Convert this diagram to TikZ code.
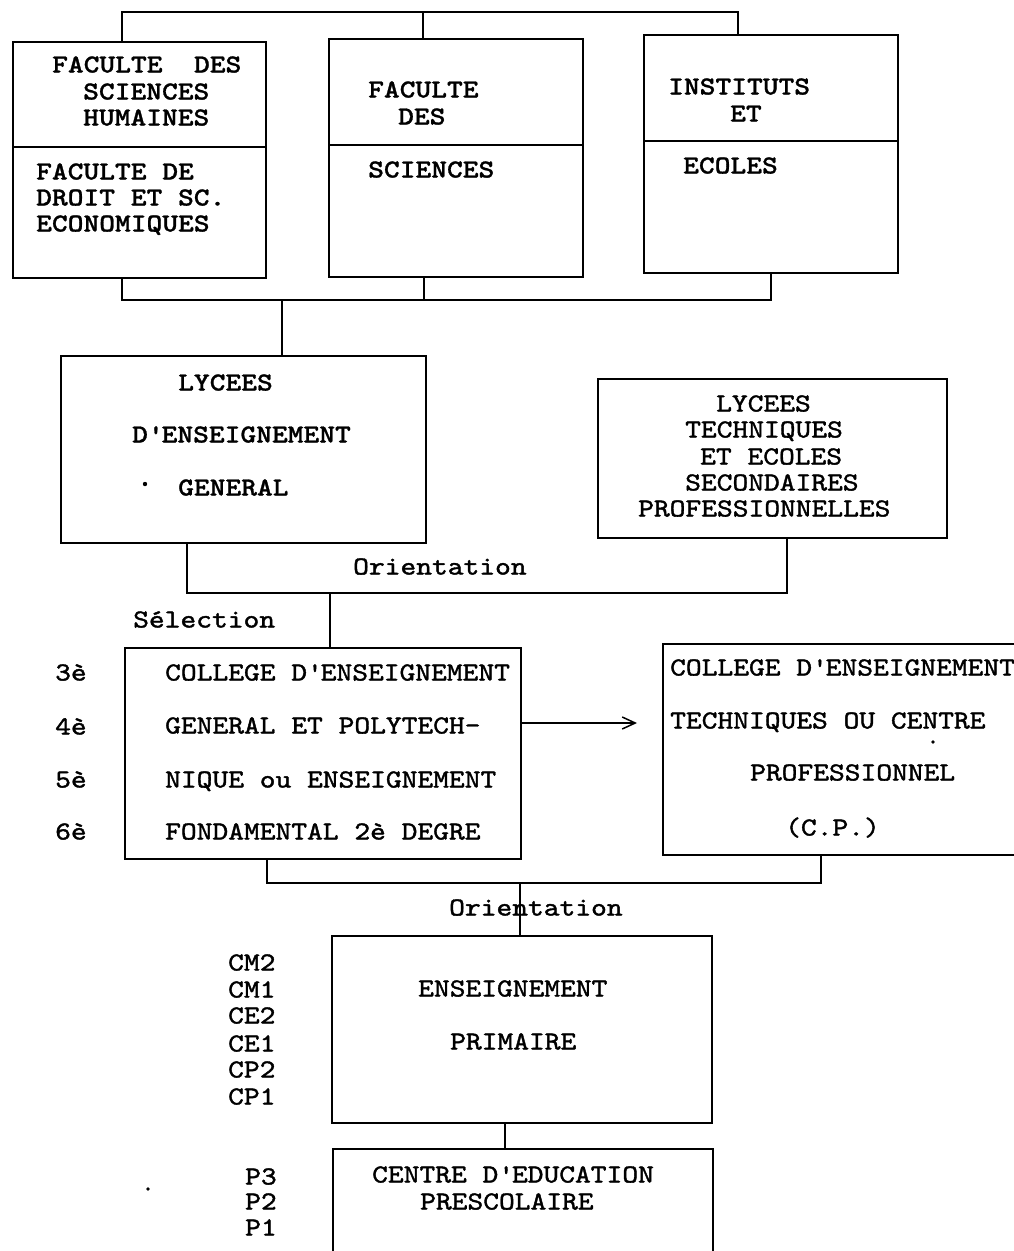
\documentclass[tikz,border=0pt]{standalone}
\usepackage{fontspec}
\usetikzlibrary{arrows.meta}
\newfontfamily\courm{lmmono10-regular.otf}[FakeStretch=1.155, FakeBold=1.5]
\newfontfamily\courb{lmmonolt10-bold.otf}[FakeStretch=1.155, FakeBold=1]
\newcommand\apo{\textquotesingle}
\tikzset{
  box/.style={draw, line width=1.6pt, rectangle, inner sep=0pt, anchor=north west},
  conn/.style={line width=1.5pt},
  txt/.style={inner sep=0pt, anchor=west, text height=15pt, text depth=0pt,
              font={\courm\fontsize{26}{26}\selectfont}},
  txtb/.style={txt, font={\courb\fontsize{26}{26}\selectfont}}
}
\begin{document}
\begin{tikzpicture}[x=1pt,y=-1pt]
\useasboundingbox (0,0) rectangle (1014,1251);
% boxes
\node[box, minimum width=253pt, minimum height=105pt] (fsh) at (12,41) {};
\node[box, minimum width=253pt, minimum height=131pt] (fde) at (12,146) {};
\node[box, minimum width=254pt, minimum height=106pt] (fs1) at (328,38) {};
\node[box, minimum width=254pt, minimum height=132pt] (fs2) at (328,144) {};
\node[box, minimum width=254pt, minimum height=106pt] (ie1) at (643,34) {};
\node[box, minimum width=254pt, minimum height=132pt] (ie2) at (643,140) {};
\node[box, minimum width=365pt, minimum height=187pt] (lg) at (60,355) {};
\node[box, minimum width=349pt, minimum height=159pt] (lt) at (597,378) {};
\node[box, minimum width=396pt, minimum height=211pt] (cg) at (124,647) {};
\node[box, minimum width=370pt, minimum height=211pt] (ct) at (662,643) {};
\node[box, minimum width=380pt, minimum height=187pt] (ep) at (331,935) {};
\node[box, minimum width=380pt, minimum height=140pt] (pre) at (332,1148) {};
% connector junctions
\coordinate (ta) at (122,12);
\coordinate (tb) at (423,12);
\coordinate (tc) at (738,12);
\coordinate (ba) at (122,300);
\coordinate (bb) at (424,300);
\coordinate (bc) at (771,300);
\coordinate (bm) at (282,300);
\coordinate (oa) at (187,593);
\coordinate (ob) at (787,593);
\coordinate (om) at (330,593);
\coordinate (ah) at (637,723);
\coordinate (la) at (267,883);
\coordinate (lb) at (821,883);
\coordinate (lm) at (520,883);
\coordinate (pm) at (505,1135);
% connectors
\draw[conn] (fsh.north -| ta) -- (ta) -- (tc) -- (ie1.north -| tc);
\draw[conn] (tb) -- (fs1.north -| tb);
\draw[conn] (fde.south -| ba) -- (ba) -- (bc) -- (ie2.south -| bc);
\draw[conn] (fs2.south -| bb) -- (bb);
\draw[conn] (bm) -- (lg.north -| bm);
\draw[conn] (lg.south -| oa) -- (oa) -- (ob) -- (lt.south -| ob);
\draw[conn] (om) -- (cg.north -| om);
\draw[conn, -{Straight Barb[length=13pt,width=12pt,line width=1.5pt]}] (cg.east |- ah) -- (ah);
\draw[conn] (cg.south -| la) -- (la) -- (lb) -- (ct.south -| lb);
\draw[conn] (lm) -- (ep.north -| lm);
\draw[conn] (ep.south -| pm) -- (pre.north -| pm);
% texts: top boxes
\node[txtb] (t1a) at (52,65) {FACULTE~~DES};
\node[txtb] (t1b) at (83,92) {SCIENCES};
\node[txtb] (t1c) at (83,118) {HUMAINES};
\node[txtb] (t1d) at (36,172) {FACULTE DE};
\node[txtb] (t1e) at (36,198) {DROIT ET SC.};
\node[txtb] (t1f) at (36,224) {ECONOMIQUES};
\node[txtb] (t2a) at (368,90) {FACULTE};
\node[txtb] (t2b) at (398,117) {DES};
\node[txtb] (t2c) at (368,170) {SCIENCES};
\node[txtb] (t3a) at (668,87) {INSTITUTS};
\node[txtb] (t3b) at (730,114) {ET};
\node[txtb] (t3c) at (683,166) {ECOLES};
% lycees
\node[txtb] (lga) at (178,383) {LYCEES};
\node[txtb] (lgb) at (132,435) {D\apo ENSEIGNEMENT};
\node[txtb] (lgc) at (178,488) {GENERAL};
\fill (145,484) circle (2.2pt);
\node[txt] (lta) at (716,404) {LYCEES};
\node[txt] (ltb) at (685,430) {TECHNIQUES};
\node[txt] (ltc) at (700,457) {ET ECOLES};
\node[txt] (ltd) at (685,483) {SECONDAIRES};
\node[txt] (lte) at (638,509) {PROFESSIONNELLES};
\node[txt] (or1) at (353,567) {Orientation};
\node[txt] (sel) at (133,620) {Sélection};
% colleges
\node[txt] (g3) at (55,673) {3è};
\node[txt] (g4) at (55,727) {4è};
\node[txt] (g5) at (55,780) {5è};
\node[txt] (g6) at (55,832) {6è};
\node[txt] (cga) at (165,673) {COLLEGE D\apo ENSEIGNEMENT};
\node[txt] (cgb) at (165,726) {GENERAL ET POLYTECH-};
\node[txt] (cgc) at (165,780) {NIQUE ou ENSEIGNEMENT};
\node[txt] (cgd) at (165,832) {FONDAMENTAL 2è DEGRE};
\node[txt] (cta) at (670,668) {COLLEGE D\apo ENSEIGNEMENT};
\node[txt] (ctb) at (670,721) {TECHNIQUES OU CENTRE};
\node[txt] (ctc) at (750,773) {PROFESSIONNEL};
\node[txt] (ctd) at (785,828) {(C.P.)};
\fill (933,742) circle (1.8pt);
% primaire
\node[txt] (or2) at (449,908) {Orientation};
\node[txt] (cm2) at (228,963) {CM2};
\node[txt] (cm1) at (228,990) {CM1};
\node[txt] (ce2) at (228,1016) {CE2};
\node[txt] (ce1) at (228,1044) {CE1};
\node[txt] (cp2) at (228,1070) {CP2};
\node[txt] (cp1) at (228,1097) {CP1};
\node[txt] (epa) at (418,989) {ENSEIGNEMENT};
\node[txt] (epb) at (450,1042) {PRIMAIRE};
% prescolaire
\node[txt] (p3) at (245,1177) {P3};
\node[txt] (p2) at (245,1202) {P2};
\node[txt] (p1) at (245,1228) {P1};
\node[txt] (pra) at (372,1175) {CENTRE D\apo EDUCATION};
\node[txt] (prb) at (420,1202) {PRESCOLAIRE};
\fill (148,1189) circle (1.8pt);
\end{tikzpicture}
\end{document}
